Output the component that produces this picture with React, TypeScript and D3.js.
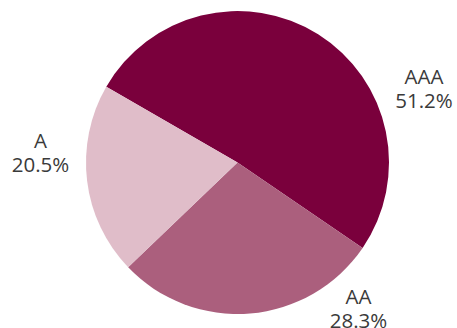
import React from "react";
import * as d3 from "d3";

const categories = ["AAA", "AA", "A"];
const values = [51.2, 28.3, 20.5];
const colors = ["#7a003c", "#ab5f7d", "#e0bdc9"];

// layout (label anchor points, in pixels)
const labelAnchors: [number, number][] = [
  [424, 84],
  [358.5, 303.5],
  [40.5, 147.5],
];

const W = 457;
const H = 328;
const cx = 237.5;
const cy = 162.5;
const R = 151.5;

export default function App() {
  const pie = d3
    .pie<number>()
    .sort(null)
    .value((d) => d)
    .startAngle(-Math.PI / 3)
    .endAngle(-Math.PI / 3 + 2 * Math.PI);
  const arcs = pie(values);
  const arc = d3.arc<d3.PieArcDatum<number>>().innerRadius(0).outerRadius(R);

  return (
    <svg
      width={W}
      height={H}
      style={{ position: "absolute", left: 0, top: 0, display: "block" }}
    >
      <rect width={W} height={H} fill="#ffffff" />
      <g transform={`translate(${cx},${cy})`}>
        {arcs.map((a, i) => (
          <path key={i} d={arc(a) || ""} fill={colors[i]} />
        ))}
      </g>
      {arcs.map((a, i) => (
        <text
          key={"l" + i}
          x={labelAnchors[i][0]}
          y={labelAnchors[i][1]}
          textAnchor="middle"
          fontFamily="'Open Sans', 'Noto Sans', sans-serif"
          fontSize={20.5}
          fill="#3a3a3a"
        >
          <tspan x={labelAnchors[i][0]}>{categories[i]}</tspan>
          <tspan x={labelAnchors[i][0]} dy={24}>
            {values[i].toFixed(1) + "%"}
          </tspan>
        </text>
      ))}
    </svg>
  );
}
